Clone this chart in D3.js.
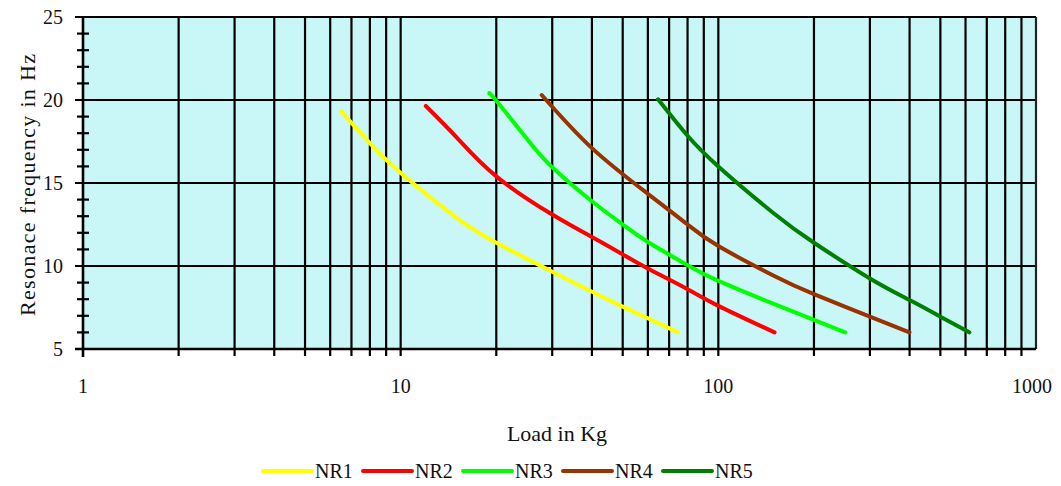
<!DOCTYPE html>
<html><head><meta charset="utf-8">
<script src="https://cdn.jsdelivr.net/npm/d3@7"></script>
<style>body{margin:0;background:#fff}svg{display:block}text{font-family:"Liberation Serif","DejaVu Serif",serif;fill:#111}</style>
</head><body><svg id="c" width="1061" height="486"></svg>
<script>
const seriesNames = ["NR1","NR2","NR3","NR4","NR5"];
const seriesColors = ["#ffff00","#ff0000","#00ff00","#993300","#008000"];
const nr1 = [[6.5,19.3],[8,17.4],[10,15.6],[15,12.9],[20,11.4],[30,9.65],[40,8.45],[50,7.55],[60,6.85],[74.6,6.0]];
const nr2 = [[12,19.64],[15,17.75],[20,15.4],[30,13.1],[40,11.75],[50,10.7],[60,9.85],[80,8.6],[100,7.6],[150.3,6.0]];
const nr3 = [[19,20.4],[20,19.95],[25,17.65],[30,15.95],[40,13.9],[50,12.5],[60,11.45],[80,10.05],[100,9.1],[150,7.7],[200,6.75],[250.7,6.0]];
const nr4 = [[27.8,20.3],[40,17.1],[60,14.35],[80,12.5],[100,11.2],[150,9.4],[200,8.3],[300,6.95],[399.6,6.0]];
const nr5 = [[64.6,20.04],[70,19.2],[80,17.85],[100,16.0],[150,13.15],[200,11.4],[300,9.25],[400,7.95],[500,6.95],[617,6.0]];
const seriesData = [nr1,nr2,nr3,nr4,nr5];
const xTickLabels = [1,10,100,1000];
const yTickLabels = [5,10,15,20,25];

const svg = d3.select("#c");
const L=83, R=1036, T=17, B=349;
const x = d3.scaleLog().domain([1,1000]).range([L,R]);
const y = d3.scaleLinear().domain([5,25]).range([B,T]);

svg.append("rect").attr("x",L).attr("y",T).attr("width",R-L).attr("height",B-T).attr("fill","#c9f7f7");

// vertical grid lines
const xGrid = [];
for (let d=1; d<1000; d*=10) for (let k=1;k<10;k++) xGrid.push(d*k);
svg.append("g").selectAll("line").data(xGrid.filter(v=>v>1)).join("line")
  .attr("x1",d=>x(d)).attr("x2",d=>x(d)).attr("y1",T).attr("y2",B+7)
  .attr("stroke","#000").attr("stroke-width",2.2);
// horizontal grid
svg.append("g").selectAll("line").data([10,15,20]).join("line")
  .attr("x1",L-8).attr("x2",R).attr("y1",d=>y(d)).attr("y2",d=>y(d))
  .attr("stroke","#000").attr("stroke-width",2.2);
// y minor ticks
const yMinor = d3.range(6,25).filter(v=>v%5!==0);
svg.append("g").selectAll("line").data(yMinor).join("line")
  .attr("x1",L-6).attr("x2",L+6).attr("y1",d=>y(d)).attr("y2",d=>y(d))
  .attr("stroke","#000").attr("stroke-width",2.2);
// border
svg.append("line").attr("x1",L-8).attr("x2",R).attr("y1",T).attr("y2",T).attr("stroke","#000").attr("stroke-width",2.2);
svg.append("line").attr("x1",R).attr("x2",R).attr("y1",T).attr("y2",B).attr("stroke","#222").attr("stroke-width",2.2);
svg.append("line").attr("x1",L-8).attr("x2",R).attr("y1",B).attr("y2",B).attr("stroke","#000").attr("stroke-width",2.6);
svg.append("line").attr("x1",L).attr("x2",L).attr("y1",T).attr("y2",B+8).attr("stroke","#000").attr("stroke-width",2.6);

// tick labels
svg.append("g").selectAll("text").data(yTickLabels).join("text")
  .attr("x",L-20).attr("y",d=>y(d)).attr("dy","0.34em").attr("text-anchor","end")
  .attr("font-size",20).text(d=>d);
svg.append("g").selectAll("text").data(xTickLabels).join("text")
  .attr("x",d=>x(d)-(d===1000?4:0)).attr("y",393).attr("text-anchor","middle")
  .attr("font-size",20).text(d=>d);

// curves
const line = d3.line().x(d=>x(d[0])).y(d=>y(d[1])).curve(d3.curveNatural);
svg.append("g").selectAll("path").data(seriesData).join("path")
  .attr("d",line).attr("fill","none").attr("stroke",(d,i)=>seriesColors[i])
  .attr("stroke-width",4).attr("stroke-linecap","round");

// titles
svg.append("text").attr("x",557).attr("y",441).attr("text-anchor","middle").attr("font-size",22).text("Load in Kg");
svg.append("text").attr("transform","translate(35,185) rotate(-90)").attr("text-anchor","middle").attr("font-size",22).attr("textLength",262).attr("lengthAdjust","spacing").text("Resonace frequency in Hz");

// legend
const lg = svg.append("g").selectAll("g").data(seriesNames).join("g")
  .attr("transform",(d,i)=>`translate(${263+i*100},471)`);
lg.append("line").attr("x1",0).attr("x2",49).attr("y1",0).attr("y2",0)
  .attr("stroke",(d,i)=>seriesColors[i]).attr("stroke-width",4).attr("stroke-linecap","round");
lg.append("text").attr("x",52).attr("y",0).attr("dy","0.34em").attr("font-size",20).text(d=>d);
</script></body></html>
